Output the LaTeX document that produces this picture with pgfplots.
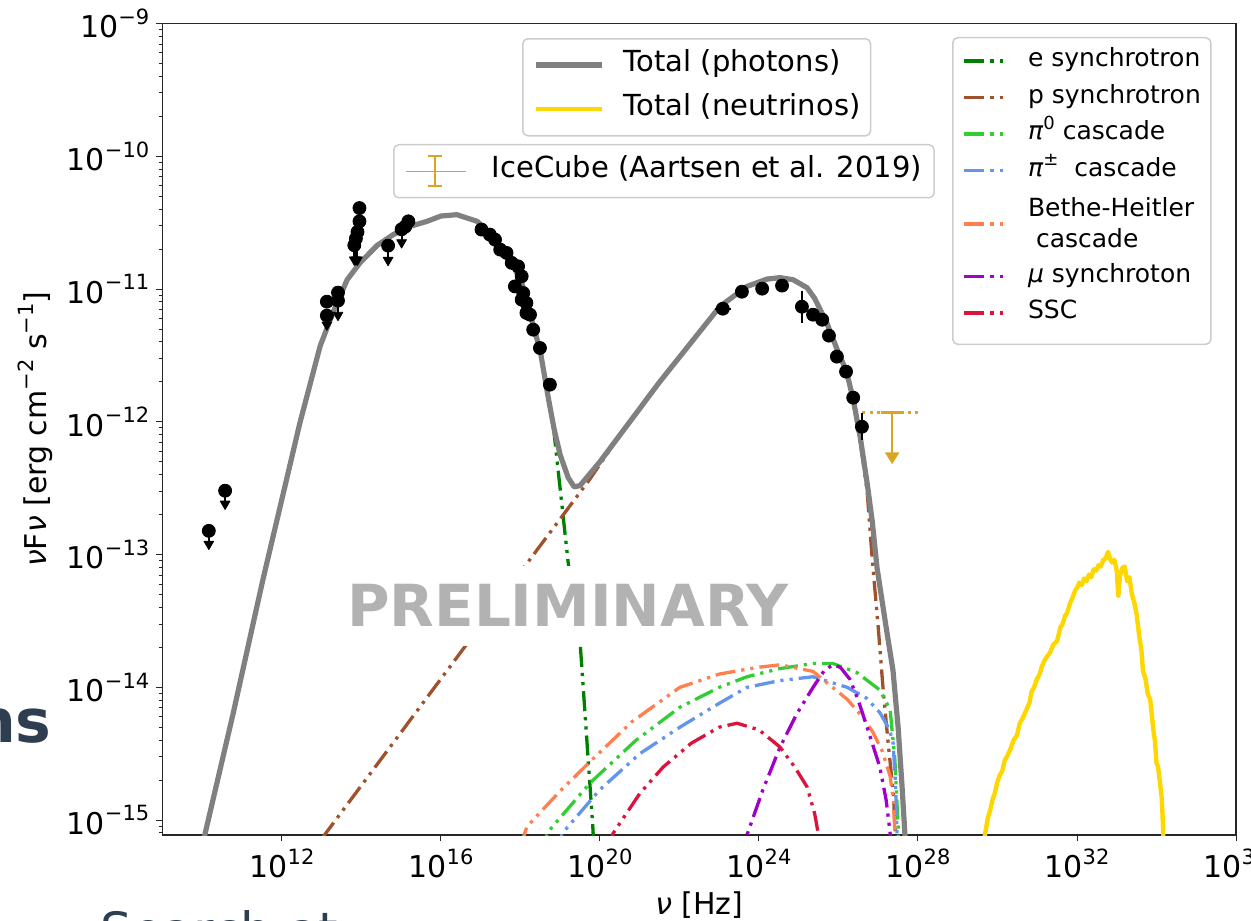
\documentclass[border=0pt]{standalone}
\usepackage{fontspec}
\setmainfont{DejaVu Sans}
\usepackage{pgfplots}
\pgfplotsset{compat=1.18}
\usetikzlibrary{arrows.meta}

\definecolor{cGray}{HTML}{808080}
\definecolor{cGold}{HTML}{FFD700}
\definecolor{cGoldenrod}{HTML}{DAA520}
\definecolor{cGreen}{HTML}{008000}
\definecolor{cSienna}{HTML}{A0522D}
\definecolor{cLime}{HTML}{32CD32}
\definecolor{cBlue}{HTML}{6495ED}
\definecolor{cCoral}{HTML}{FF7F50}
\definecolor{cViolet}{HTML}{A000C8}
\definecolor{cCrimson}{HTML}{DC143C}
\definecolor{cSlide}{HTML}{2C3E50}
\definecolor{cFrame}{HTML}{CCCCCC}

\newcommand{\pw}[1]{10\raisebox{0.45em}{\fontsize{10.5pt}{12pt}\selectfont #1}}
\newcommand{\sps}[1]{\raisebox{0.45em}{\fontsize{10.5pt}{12pt}\selectfont #1}}
\newcommand{\lsps}[1]{\raisebox{0.42em}{\fontsize{9pt}{10pt}\selectfont #1}}

\tikzset{ddot/.style={line width=1.65pt, dash pattern=on 10pt off 3pt on 1.6pt off 3pt on 1.6pt off 3pt}}
\pgfplotsset{
  geom/.style={at={(0pt,0pt)}, anchor=south west, scale only axis,
    width=536.65pt, height=405.75pt, xmin=9, xmax=36, ymin=-15.112, ymax=-9},
}

\begin{document}
\begin{tikzpicture}
\useasboundingbox (-81.35pt,-42.5pt) rectangle (544.15pt,417.5pt);
\clip (-81.35pt,-42.5pt) rectangle (544.15pt,417.5pt);
\begin{axis}[geom,
  xtick={12,16,20,24,28,32,36},
  xticklabels={\pw{12},\pw{16},\pw{20},\pw{24},\pw{28},\pw{32},\pw{36}},
  ytick={-15,-14,-13,-12,-11,-10,-9},
  yticklabels={\pw{−15},\pw{−14},\pw{−13},\pw{−12},\pw{−11},\pw{−10},\pw{−9}},
  minor ytick={-15.0969,-15.0458,
    -14.6990,-14.5229,-14.3979,-14.3010,-14.2218,-14.1549,-14.0969,-14.0458,
    -13.6990,-13.5229,-13.3979,-13.3010,-13.2218,-13.1549,-13.0969,-13.0458,
    -12.6990,-12.5229,-12.3979,-12.3010,-12.2218,-12.1549,-12.0969,-12.0458,
    -11.6990,-11.5229,-11.3979,-11.3010,-11.2218,-11.1549,-11.0969,-11.0458,
    -10.6990,-10.5229,-10.3979,-10.3010,-10.2218,-10.1549,-10.0969,-10.0458,
    -9.6990,-9.5229,-9.3979,-9.3010,-9.2218,-9.1549,-9.0969,-9.0458},
  xtick pos=left, ytick pos=left,
  tick align=outside,
  major tick length=3.2pt, minor tick length=2pt,
  every tick/.style={black!85, line width=0.5pt},
  axis line style={black!85, line width=0.65pt},
  tick label style={font=\fontsize{15pt}{18pt}\selectfont},
  label style={font=\fontsize{15pt}{18pt}\selectfont},
  xlabel={\textit{ν} [Hz]},
  ylabel={\textit{ν}F\textit{ν} [erg cm\sps{−2} s\sps{−1}]},
  every axis plot/.append style={line join=round},
  legend cell align=left,
  legend style={at={(0.7354,0.9834)}, anchor=north west,
    draw=cFrame, line width=0.75pt, rounded corners=2.5pt,
    fill=white, fill opacity=0.8, text opacity=1, draw opacity=1,
    font=\fontsize{12.5pt}{14.5pt}\selectfont,
    inner xsep=5pt, inner ysep=4.6pt, row sep=4.25pt, column sep=9pt,
    nodes={inner sep=0pt, text height=9.9pt, text depth=4.1pt}},
  legend image code/.code={\draw[#1] (0pt,0pt) -- (22pt,0pt);},
]
% components
\addplot[cGreen, ddot] coordinates {(10.00,-15.30) (10.06,-15.11) (10.77,-14.20) (11.52,-13.19) (12.45,-12.01) (12.96,-11.43) (13.28,-11.18) (13.64,-10.93) (13.97,-10.80) (14.40,-10.67) (14.80,-10.59) (15.20,-10.53) (15.65,-10.49) (16.00,-10.45) (16.40,-10.44) (16.91,-10.49) (17.20,-10.57) (17.50,-10.68) (17.80,-10.81) (18.05,-10.97) (18.30,-11.25) (18.50,-11.47) (18.70,-11.82) (18.83,-12.04) (19.20,-13.06) (19.50,-13.66) (19.82,-15.05) (19.86,-15.30)};
\addplot[cSienna, ddot] coordinates {(13.00,-15.14) (19.55,-12.51) (19.75,-12.43) (20.00,-12.32) (20.50,-12.10) (21.50,-11.70) (23.02,-11.13) (23.70,-10.985) (24.20,-10.93) (24.53,-10.92) (24.86,-10.935) (25.21,-10.995) (25.40,-11.075) (25.70,-11.255) (25.96,-11.455) (26.20,-11.63) (26.37,-11.85) (26.55,-12.16) (26.72,-12.52) (26.85,-13.04) (27.00,-13.55) (27.13,-14.04) (27.25,-14.42) (27.38,-14.80) (27.43,-15.10) (27.46,-15.30)};
\addplot[cLime, ddot] coordinates {(18.50,-15.25) (18.69,-15.09) (19.75,-14.72) (20.90,-14.40) (22.01,-14.15) (23.00,-14.00) (23.70,-13.92) (24.50,-13.86) (25.36,-13.82) (25.86,-13.82) (26.47,-13.89) (27.04,-14.02) (27.30,-14.17) (27.42,-14.55) (27.50,-15.05) (27.52,-15.30)};
\addplot[cBlue, ddot] coordinates {(18.90,-15.25) (19.05,-15.10) (20.00,-14.77) (21.00,-14.50) (22.01,-14.30) (23.00,-14.12) (23.70,-14.00) (24.50,-13.95) (25.36,-13.92) (26.22,-14.00) (26.70,-14.08) (27.04,-14.19) (27.25,-14.30) (27.37,-14.40) (27.43,-14.70) (27.47,-15.05) (27.49,-15.30)};
\addplot[cCoral, ddot, legend image code/.code={\draw[cCoral, ddot] (0pt,-8.5pt) -- (22pt,-8.5pt);}] coordinates {(18.00,-15.20) (18.16,-15.05) (19.00,-14.78) (19.75,-14.56) (20.80,-14.26) (22.01,-14.00) (23.00,-13.90) (23.95,-13.85) (24.53,-13.83) (25.36,-13.88) (26.22,-14.09) (26.60,-14.22) (26.87,-14.34) (27.10,-14.48) (27.30,-14.67) (27.38,-14.85) (27.42,-15.10) (27.45,-15.30)};
\addlegendimage{empty legend}
\addplot[cViolet, ddot, legend image code/.code={\draw[cViolet, ddot] (0pt,4pt) -- (22pt,4pt);}] coordinates {(23.60,-15.30) (23.70,-15.11) (24.10,-14.77) (24.53,-14.45) (24.95,-14.20) (25.36,-14.00) (25.65,-13.87) (25.86,-13.83) (26.05,-13.85) (26.29,-13.94) (26.50,-14.10) (26.72,-14.30) (27.04,-14.60) (27.20,-14.85) (27.30,-15.10) (27.33,-15.30)};
\addplot[cCrimson, ddot, legend image code/.code={\draw[cCrimson, ddot] (0pt,4pt) -- (22pt,4pt);}] coordinates {(20.20,-15.22) (20.33,-15.10) (21.00,-14.80) (21.59,-14.60) (22.30,-14.42) (23.00,-14.30) (23.45,-14.27) (24.00,-14.32) (24.53,-14.45) (24.90,-14.60) (25.21,-14.75) (25.40,-14.95) (25.49,-15.10) (25.55,-15.25)};
\legend{e synchrotron\hspace{6pt}, p synchrotron, \textit{π}\lsps{0} cascade, \textit{π}\lsps{±}\ \ cascade,
  \raisebox{-2pt}{Bethe-Heitler}, \raisebox{3pt}{\ cascade}, \raisebox{4pt}{\textit{μ} synchroton}, \raisebox{4pt}{SSC}}
% total photons
\addplot[forget plot, cGray, line width=2.6pt] coordinates {(10.00,-15.30) (10.06,-15.11) (10.77,-14.20) (11.52,-13.19) (12.45,-12.01) (12.96,-11.43) (13.28,-11.18) (13.64,-10.93) (13.97,-10.80) (14.40,-10.67) (14.80,-10.59) (15.20,-10.53) (15.65,-10.49) (16.00,-10.45) (16.40,-10.44) (16.91,-10.49) (17.20,-10.57) (17.50,-10.68) (17.80,-10.81) (18.05,-10.97) (18.30,-11.25) (18.50,-11.47) (18.70,-11.82) (18.85,-12.06) (19.00,-12.25) (19.20,-12.42) (19.35,-12.49) (19.50,-12.48) (19.75,-12.39) (20.00,-12.30) (20.50,-12.10) (21.50,-11.70) (23.02,-11.13) (23.70,-10.98) (24.20,-10.925) (24.53,-10.914) (24.86,-10.93) (25.21,-10.99) (25.40,-11.07) (25.70,-11.25) (25.96,-11.45) (26.20,-11.62) (26.37,-11.83) (26.55,-12.12) (26.72,-12.46) (26.85,-12.75) (26.97,-13.10) (27.20,-13.55) (27.37,-13.87) (27.50,-14.30) (27.60,-14.75) (27.67,-15.10) (27.72,-15.40)};
% total neutrinos
\addplot[forget plot, cGold, line width=2.2pt] coordinates {(29.60,-15.30) (29.69,-15.10) (29.76,-14.98) (29.82,-14.92) (29.88,-14.84) (29.93,-14.80) (29.99,-14.72) (30.06,-14.66) (30.12,-14.63) (30.18,-14.55) (30.24,-14.52) (30.32,-14.47) (30.40,-14.40) (30.49,-14.36) (30.56,-14.27) (30.62,-14.24) (30.68,-14.20) (30.74,-14.16) (30.80,-14.12) (30.86,-14.03) (30.92,-14.00) (30.99,-13.94) (31.06,-13.90) (31.12,-13.84) (31.18,-13.80) (31.24,-13.77) (31.32,-13.74) (31.40,-13.68) (31.50,-13.65) (31.58,-13.55) (31.64,-13.52) (31.70,-13.46) (31.75,-13.44) (31.82,-13.37) (31.88,-13.33) (31.94,-13.28) (32.00,-13.25) (32.06,-13.21) (32.12,-13.23) (32.18,-13.18) (32.24,-13.20) (32.30,-13.15) (32.36,-13.17) (32.42,-13.11) (32.48,-13.12) (32.54,-13.08) (32.60,-13.09) (32.66,-13.04) (32.72,-13.03) (32.78,-12.98) (32.83,-13.03) (32.88,-13.06) (32.94,-13.04) (33.00,-13.12) (33.04,-13.31) (33.08,-13.16) (33.14,-13.10) (33.20,-13.09) (33.26,-13.20) (33.32,-13.17) (33.38,-13.30) (33.44,-13.36) (33.50,-13.45) (33.56,-13.60) (33.62,-13.72) (33.66,-13.88) (33.72,-13.93) (33.78,-14.05) (33.84,-14.09) (33.88,-14.20) (33.92,-14.32) (33.96,-14.40) (34.00,-14.57) (34.04,-14.60) (34.08,-14.70) (34.13,-14.83) (34.15,-14.95) (34.17,-15.10) (34.18,-15.30)};
% IceCube upper limit
\addplot[forget plot, cGoldenrod, line width=1.2pt, dash pattern=on 1.5pt off 2.3pt] coordinates {(26.59,-11.931) (28.10,-11.931)};
\addplot[forget plot, cGoldenrod, line width=1.3pt] coordinates {(27.07,-11.931) (27.64,-11.931)};
\addplot[forget plot, cGoldenrod, line width=1.3pt, -{Triangle[width=7pt,length=6pt]}] coordinates {(27.35,-11.931) (27.35,-12.32)};
% data points: upper limits
\addplot[forget plot, only marks, mark=*, mark size=3.25pt, black,
  error bars/.cd, y dir=minus, y explicit,
  error bar style={line width=1pt, black},
  error mark=triangle*, error mark options={rotate=270, mark size=2.8pt, black, fill=black}]
  coordinates {
  (10.57,-12.519) -= (0,0.11)
  (10.16,-12.821) -= (0,0.11)
  (13.13,-11.200) -= (0,0.08)
  (13.41,-11.087) -= (0,0.12)
  (13.90,-10.570) -= (0,0.22)
  (13.86,-10.620) -= (0,0.17)
  (13.82,-10.670) -= (0,0.12)
  (14.67,-10.673) -= (0,0.12)
  (15.01,-10.550) -= (0,0.11)
  };
% data points
\addplot[forget plot, only marks, mark=*, mark size=3.25pt, black,
  error bars/.cd, x dir=both, x explicit, y dir=both, y explicit,
  error bar style={line width=1pt, black}, error mark=none]
  coordinates {
  (13.13,-11.095) +- (0,0)
  (13.41,-11.027) +- (0,0)
  (13.95,-10.390) +- (0,0)
  (13.95,-10.490) +- (0,0)
  (15.10,-10.530) +- (0,0)
  (15.18,-10.490) +- (0,0)
  (17.02,-10.552) +- (0,0)
  (17.23,-10.590) +- (0,0)
  (17.36,-10.628) +- (0,0)
  (17.49,-10.703) +- (0,0)
  (17.65,-10.728) +- (0,0)
  (17.78,-10.803) +- (0,0)
  (17.94,-10.829) +- (0,0)
  (18.03,-10.904) +- (0,0)
  (17.86,-10.980) +- (0,0)
  (18.07,-11.030) +- (0,0)
  (18.03,-11.080) +- (0,0)
  (18.15,-11.105) +- (0,0)
  (18.15,-11.180) +- (0,0)
  (18.24,-11.193) +- (0,0)
  (18.32,-11.306) +- (0,0)
  (18.49,-11.444) +- (0,0)
  (18.74,-11.720) +- (0,0)
  (23.09,-11.148) +- (0.2,0)
  (23.57,-11.020) +- (0.1,0)
  (24.08,-10.997) +- (0,0)
  (24.58,-10.974) +- (0.1,0)
  (25.08,-11.133) +- (0.15,0.12)
  (25.36,-11.193) +- (0,0)
  (25.59,-11.231) +- (0,0)
  (25.76,-11.351) +- (0,0)
  (25.96,-11.509) +- (0,0)
  (26.19,-11.622) +- (0,0)
  (26.37,-11.818) +- (0,0)
  (26.59,-12.037) +- (0,0.1)
  };
\node[fill=white, inner xsep=4pt, inner ysep=9.5pt, text=black!30,
  font=\fontsize{29pt}{34pt}\selectfont\bfseries] at (axis cs:19.196,-13.386) {PRELIMINARY};
\end{axis}
% legend: totals + right-hand twin ticks
\begin{axis}[geom,
  axis x line=none, axis y line*=right,
  ytick=\empty, minor ytick={-10.213,-11.419,-12.662,-13.883},
  tick align=outside, minor tick length=3.2pt,
  every tick/.style={black!85, line width=0.5pt},
  axis line style={black!85, line width=0.65pt},
  legend cell align=left,
  legend style={at={(0.3348,0.9821)}, anchor=north west,
    draw=cFrame, line width=0.75pt, rounded corners=2.5pt,
    fill=white, fill opacity=0.8, text opacity=1, draw opacity=1,
    font=\fontsize{14.5pt}{17pt}\selectfont,
    inner xsep=5pt, inner ysep=4.75pt, row sep=5pt, column sep=9.5pt,
    nodes={inner sep=0pt, text height=11.5pt, text depth=5.5pt}},
  legend image code/.code={\draw[#1] (0pt,0pt) -- (33pt,0pt);},
]
\addlegendimage{cGray, line width=3pt}
\addlegendentry{Total (photons)}
\addlegendimage{cGold, line width=2.2pt}
\addlegendentry{Total (neutrinos)}
\end{axis}
% legend: IceCube
\begin{axis}[geom, hide axis,
  legend cell align=left,
  legend style={at={(0.2146,0.8515)}, anchor=north west,
    draw=cFrame, line width=0.75pt, rounded corners=2.5pt,
    fill=white, fill opacity=0.8, text opacity=1, draw opacity=1,
    font=\fontsize{14.5pt}{17pt}\selectfont,
    inner xsep=6pt, inner ysep=4.75pt, column sep=12.5pt,
    nodes={inner sep=0pt, text height=11.5pt, text depth=5.5pt}},
  legend image code/.code={
    \draw[cGoldenrod, line width=0.6pt] (0pt,0pt) -- (30pt,0pt);
    \draw[cGoldenrod, line width=1pt] (14.5pt,-7.5pt) -- (14.5pt,7.5pt);
    \draw[cGoldenrod, line width=1pt] (11pt,7.5pt) -- (18pt,7.5pt) (11pt,-7.5pt) -- (18pt,-7.5pt);},
]
\addlegendimage{cGoldenrod}
\addlegendentry{IceCube (Aartsen et al. 2019)}
\end{axis}
% slide fragments around the chart
\node[anchor=base east, inner sep=0pt, text=cSlide, font=\fontsize{30pt}{36pt}\selectfont\bfseries] at (-55.35pt,46pt) {ns};
\node[anchor=base west, inner sep=0pt, text=cSlide, font=\fontsize{25pt}{30pt}\selectfont] at (-31.35pt,-56.5pt) {Search at};
\end{tikzpicture}
\end{document}
